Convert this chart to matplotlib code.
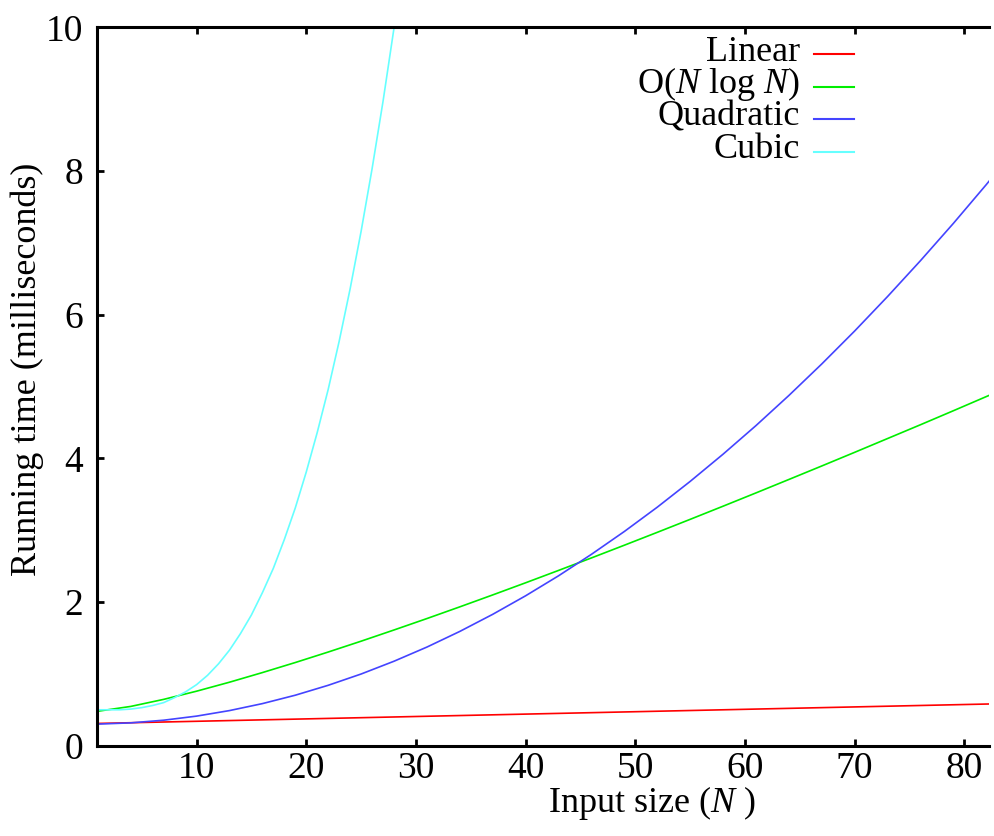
import matplotlib
matplotlib.use("Agg")
import matplotlib.pyplot as plt
from matplotlib.lines import Line2D

plt.rcParams['font.family'] = ['Liberation Serif', 'DejaVu Serif']
plt.rcParams['mathtext.fontset'] = 'custom'
plt.rcParams['mathtext.rm'] = 'Liberation Serif'
plt.rcParams['mathtext.it'] = 'Liberation Serif:italic'

# input sizes shared by the slow-growing curves
n = [1, 4, 7, 10, 13, 16, 19, 22, 25, 28, 31, 34, 37, 40, 43,
     46, 49, 52, 55, 58, 61, 64, 67, 70, 73, 76, 79, 82, 85]
linear = [0.31, 0.32, 0.33, 0.34, 0.35, 0.36, 0.37, 0.38, 0.39, 0.40,
          0.41, 0.42, 0.43, 0.44, 0.45, 0.46, 0.47, 0.48, 0.49, 0.50,
          0.51, 0.52, 0.53, 0.54, 0.55, 0.56, 0.57, 0.58, 0.59]
nlogn = [0.480, 0.547, 0.645, 0.759, 0.884, 1.018, 1.158, 1.304, 1.455,
         1.611, 1.770, 1.933, 2.099, 2.268, 2.440, 2.614, 2.791, 2.970,
         3.151, 3.334, 3.519, 3.706, 3.894, 4.084, 4.276, 4.468, 4.663,
         4.860, 5.056]
quadratic = [0.301, 0.318, 0.355, 0.412, 0.489, 0.586, 0.703, 0.841, 0.998,
             1.176, 1.373, 1.591, 1.829, 2.087, 2.365, 2.664, 2.982, 3.320,
             3.679, 4.058, 4.456, 4.875, 5.314, 5.773, 6.253, 6.752, 7.271,
             7.811, 8.370]

# cubic needs a finer grid, it leaves the plot near N = 28
n_cubic = list(range(1, 30))
cubic = [0.50, 0.50, 0.50, 0.51, 0.53, 0.56, 0.60, 0.67, 0.75, 0.85,
         0.98, 1.14, 1.33, 1.56, 1.82, 2.13, 2.47, 2.87, 3.31, 3.81,
         4.36, 4.96, 5.63, 6.36, 7.16, 8.03, 8.97, 9.99, 11.08]

labels = ['Linear', 'O($N$ log $N$)', 'Quadratic', 'Cubic']
colors = ['#ff0000', '#00ee00', '#4444ff', '#66ffff']
x_ticks = [10, 20, 30, 40, 50, 60, 70, 80]
y_ticks = [0, 2, 4, 6, 8, 10]

fig = plt.figure(figsize=(9.95, 8.36), dpi=100)
ax = fig.add_axes([0.0978, 0.1080, 0.8962, 0.8593])

series = [(n, linear), (n, nlogn), (n, quadratic), (n_cubic, cubic)]
for (xs, ys), c in zip(series, colors):
    ax.plot(xs, ys, color=c, lw=1.2)

ax.set_xlim(0.95, 82.25)
ax.set_ylim(0, 10)
ax.set_xticks(x_ticks)
ax.set_yticks(y_ticks)
ax.tick_params(direction='in', top=True, right=False, length=5, width=2,
               labelsize=27, pad=4)
ax.tick_params(axis='y', pad=10)
for side in ['left', 'bottom', 'top']:
    ax.spines[side].set_linewidth(2.2)
ax.spines['right'].set_visible(False)

ax.set_xlabel('Input size ($N$ )', fontsize=26, va='center')
ax.xaxis.set_label_coords(0.622, -0.080)
ax.set_ylabel('Running time (milliseconds)', fontsize=26, va='center')
ax.yaxis.set_label_coords(-0.079, 0.524)

# gnuplot style key: right aligned text, sample line after it
row_y = [0.9624, 0.9173, 0.8728, 0.8268]
for lab, c, y in zip(labels, colors, row_y):
    ax.text(0.788, y - 0.009, lab, transform=ax.transAxes, ha='right',
            va='baseline', fontsize=26)
    ax.add_line(Line2D([0.8035, 0.8484], [y, y], transform=ax.transAxes,
                       color=c, lw=1.5))

fig.savefig('out.png', dpi=100)
